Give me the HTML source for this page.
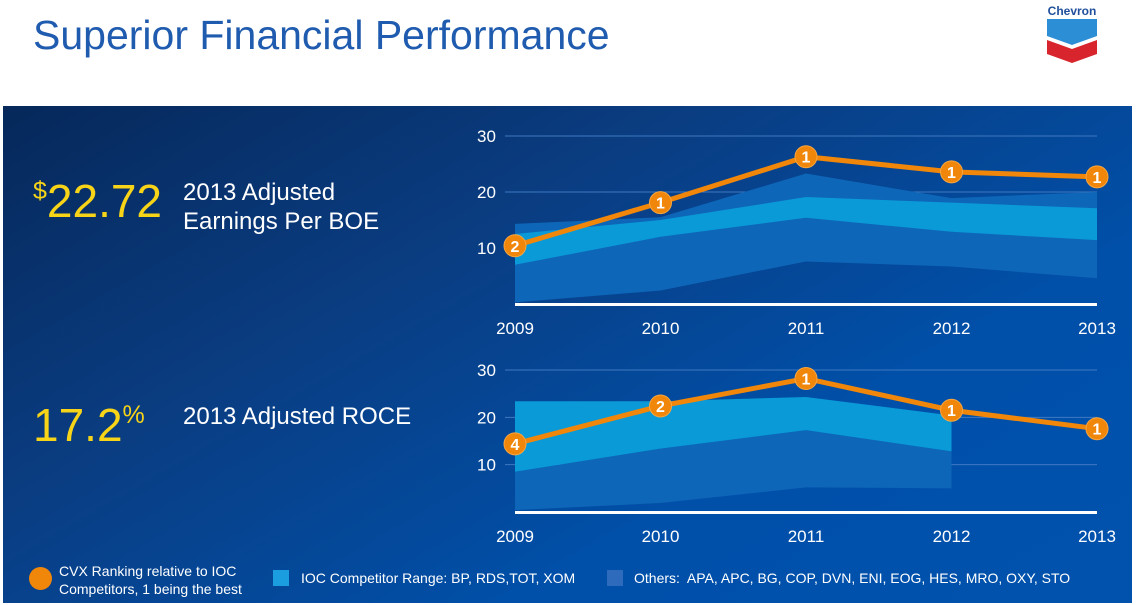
<!DOCTYPE html>
<html><head><meta charset="utf-8"><style>
body{margin:0;width:1136px;height:605px;background:#fff;position:relative;overflow:hidden;font-family:"Liberation Sans",sans-serif}
.abs{position:absolute}
#panel{left:3px;top:106px;width:1129px;height:497px;background:linear-gradient(150deg,#06285a 0%,#0a3d82 35%,#0050aa 70%,#0052ad 100%)}
.w{color:#fff}
</style></head><body>
<div class="abs" style="left:33px;top:12px;font-size:41px;color:#1f5bae">Superior Financial Performance</div>
<svg class="abs" style="left:1040px;top:2px" width="64" height="62" viewBox="0 0 64 62">
<text x="32" y="13" text-anchor="middle" font-family="Liberation Sans" font-weight="bold" font-size="12" fill="#1f4f9c">Chevron</text>
<polygon points="7,17 57,17 57,34 32,43 7,34" fill="#2c8fd6"/>
<polygon points="7,38 32,47 57,38 57,52 32,61 7,52" fill="#d8242c"/>
</svg>
<div id="panel" class="abs"></div>
<div class="abs" style="left:33px;top:174px;color:#f7d417;font-size:46px"><span style="font-size:25px;vertical-align:18px">$</span>22.72</div>
<div class="abs w" style="left:183px;top:178px;font-size:24px;line-height:29px">2013 Adjusted<br>Earnings Per BOE</div>
<div class="abs" style="left:33px;top:398px;color:#f7d417;font-size:46px">17.2<span style="font-size:25px;vertical-align:18px">%</span></div>
<div class="abs w" style="left:183px;top:403px;font-size:24px">2013 Adjusted ROCE</div>
<svg id="chart" class="abs" style="left:0;top:0" width="1136" height="605"></svg>
<div class="abs" style="left:29px;top:567px;width:23px;height:23px;border-radius:50%;background:#f0860a"></div>
<div class="abs w" style="left:59px;top:562px;font-size:14px;line-height:18px">CVX Ranking relative to IOC<br>Competitors, 1 being the best</div>
<div class="abs" style="left:273px;top:570px;width:16px;height:16px;background:#1a9ee0"></div>
<div class="abs w" style="left:301px;top:570px;font-size:14px">IOC Competitor Range: BP, RDS,TOT, XOM</div>
<div class="abs" style="left:607px;top:570px;width:16px;height:16px;background:#2e6bbd"></div>
<div class="abs w" style="left:634px;top:570px;font-size:14px">Others:&nbsp; APA, APC, BG, COP, DVN, ENI, EOG, HES, MRO, OXY, STO</div>
<script>
const years=["2009","2010","2011","2012","2013"];
const yTicks=[10,20,30];
const epsCvx=[10.4,18.1,26.3,23.6,22.7];
const epsRank=[2,1,1,1,1];
const epsIocHigh=[12.5,15,19.1,18.1,17.1];
const epsIocLow=[7.0,12,15.4,12.9,11.4];
const epsOthHigh=[14.3,15.5,23.3,18.9,20];
const epsOthLow=[0.3,2.4,7.6,6.7,4.6];
const roceCvx=[14.4,22.4,28.2,21.5,17.6];
const roceRank=[4,2,1,1,1];
const roceIocHigh=[23.4,23.4,24.3,20.4];
const roceIocLow=[8.5,13.4,17.3,12.8];
const roceOthHigh=[8.5,13.4,17.3,12.8];
const roceOthLow=[0.4,1.9,5.2,5.0];
const NS="http://www.w3.org/2000/svg";
const svg=document.getElementById('chart');
function mk(t,a){const e=document.createElementNS(NS,t);for(const k in a)e.setAttribute(k,a[k]);svg.appendChild(e);return e;}
function draw(pref,base,top30,cvx,rank,iH,iL,oH,oL){
  const x=i=>515+i*145.5;
  const y=v=>base-(base-top30)*v/30;
  yTicks.forEach(t=>{
    const g=mk('line',{x1:505,x2:1097,y1:y(t),y2:y(t),stroke:'#3f78c0','stroke-width':1});
    
    const l=mk('text',{x:477,y:y(t)+6,fill:'#fff','font-size':17,'font-family':'Liberation Sans'});l.textContent=t;
    
  });
  function area(hi,lo,fill,name){
    const pts=hi.map((v,i)=>x(i)+','+y(v)).concat(lo.map((v,i)=>x(i)+','+y(v)).reverse()).join(' ');
    const p=mk('polygon',{points:pts,fill:fill});
    
  }
  area(oH,oL,'#0e66b8',pref+'-others-range');
  area(iH,iL,'#0a9ad8',pref+'-ioc-range');
  const ax=mk('rect',{x:515,y:base-1,width:582,height:3,fill:'#fff'});
  
  years.forEach((yr,i)=>{const t=mk('text',{x:x(i),y:base+30,fill:'#fff','font-size':17,'text-anchor':'middle','font-family':'Liberation Sans'});t.textContent=yr;
    });
  const ln=mk('polyline',{points:cvx.map((v,i)=>x(i)+','+y(v)).join(' '),fill:'none',stroke:'#f0860a','stroke-width':5});
  
  cvx.forEach((v,i)=>{
    const c=mk('circle',{cx:x(i),cy:y(v),r:11,fill:'#f0860a',stroke:'#f7a640','stroke-width':1});
    
    const t=mk('text',{x:x(i),y:y(v)+6,fill:'#fff','font-size':16,'font-weight':'bold','text-anchor':'middle','font-family':'Liberation Sans'});t.textContent=rank[i];
    
  });
}
draw('eps',304,136,epsCvx,epsRank,epsIocHigh,epsIocLow,epsOthHigh,epsOthLow);
draw('roce',512,370,roceCvx,roceRank,roceIocHigh,roceIocLow,roceOthHigh,roceOthLow);
</script>
</body></html>
